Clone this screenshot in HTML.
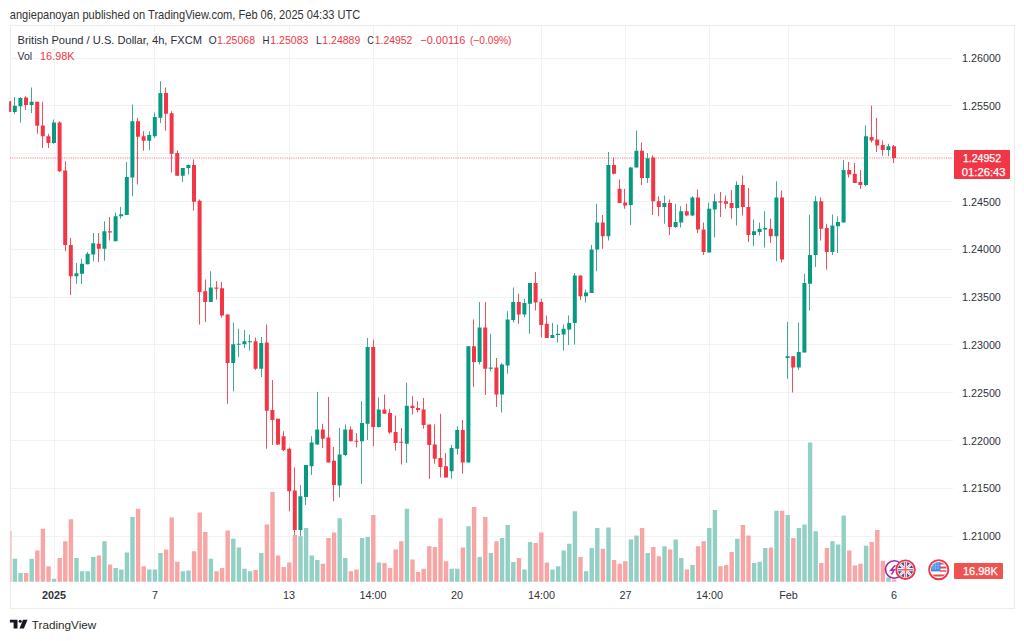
<!DOCTYPE html>
<html><head><meta charset="utf-8">
<style>
html,body{margin:0;padding:0;background:#fff;width:1024px;height:641px;overflow:hidden}
svg{position:absolute;left:0;top:0;font-family:"Liberation Sans",sans-serif}
.hd{font-size:12.4px;fill:#333}
.lg{font-size:11px;fill:#2a2e39}
.rd{fill:#f23645}
.pl{font-size:11px;fill:#2f323c}
.tl{font-size:10.8px;fill:#2f323c}
.b{font-weight:bold}
</style></head><body>
<svg width="1024" height="641" viewBox="0 0 1024 641">
<text x="9.8" y="18.8" class="hd" textLength="350.5" lengthAdjust="spacingAndGlyphs">angiepanoyan published on TradingView.com, Feb 06, 2025 04:33 UTC</text>
<rect x="10.5" y="25.5" width="1004" height="583" fill="none" stroke="#ededed" stroke-width="1.2"/>
<rect x="54" y="26" width="1" height="556" fill="#f2f2f2"/>
<rect x="154" y="26" width="1" height="556" fill="#f2f2f2"/>
<rect x="289" y="26" width="1" height="556" fill="#f2f2f2"/>
<rect x="373" y="26" width="1" height="556" fill="#f2f2f2"/>
<rect x="457" y="26" width="1" height="556" fill="#f2f2f2"/>
<rect x="541" y="26" width="1" height="556" fill="#f2f2f2"/>
<rect x="625" y="26" width="1" height="556" fill="#f2f2f2"/>
<rect x="709" y="26" width="1" height="556" fill="#f2f2f2"/>
<rect x="788" y="26" width="1" height="556" fill="#f2f2f2"/>
<rect x="894" y="26" width="1" height="556" fill="#f2f2f2"/>
<rect x="11" y="58" width="942" height="1" fill="#f2f2f2"/>
<rect x="11" y="105" width="942" height="1" fill="#f2f2f2"/>
<rect x="11" y="153" width="942" height="1" fill="#f2f2f2"/>
<rect x="11" y="201" width="942" height="1" fill="#f2f2f2"/>
<rect x="11" y="249" width="942" height="1" fill="#f2f2f2"/>
<rect x="11" y="297" width="942" height="1" fill="#f2f2f2"/>
<rect x="11" y="344" width="942" height="1" fill="#f2f2f2"/>
<rect x="11" y="392" width="942" height="1" fill="#f2f2f2"/>
<rect x="11" y="440" width="942" height="1" fill="#f2f2f2"/>
<rect x="11" y="488" width="942" height="1" fill="#f2f2f2"/>
<rect x="11" y="536" width="942" height="1" fill="#f2f2f2"/>
<rect x="10.50" y="531.25" width="1.00" height="50.50" fill="#f7a6a5"/>
<rect x="12.70" y="558.75" width="4.40" height="23.00" fill="#92d0c5"/>
<rect x="18.30" y="573.00" width="4.40" height="8.75" fill="#92d0c5"/>
<rect x="23.90" y="573.00" width="4.40" height="8.75" fill="#f7a6a5"/>
<rect x="29.50" y="558.75" width="4.40" height="23.00" fill="#92d0c5"/>
<rect x="35.10" y="550.50" width="4.40" height="31.25" fill="#f7a6a5"/>
<rect x="40.70" y="528.75" width="4.40" height="53.00" fill="#f7a6a5"/>
<rect x="46.30" y="566.25" width="4.40" height="15.50" fill="#f7a6a5"/>
<rect x="51.90" y="578.75" width="4.40" height="3.00" fill="#92d0c5"/>
<rect x="57.50" y="558.00" width="4.40" height="23.75" fill="#f7a6a5"/>
<rect x="63.10" y="541.25" width="4.40" height="40.50" fill="#f7a6a5"/>
<rect x="68.70" y="519.25" width="4.40" height="62.50" fill="#f7a6a5"/>
<rect x="74.30" y="558.00" width="4.40" height="23.75" fill="#92d0c5"/>
<rect x="79.90" y="571.25" width="4.40" height="10.50" fill="#92d0c5"/>
<rect x="85.50" y="571.25" width="4.40" height="10.50" fill="#92d0c5"/>
<rect x="91.10" y="557.00" width="4.40" height="24.75" fill="#92d0c5"/>
<rect x="96.70" y="555.50" width="4.40" height="26.25" fill="#f7a6a5"/>
<rect x="102.30" y="541.25" width="4.40" height="40.50" fill="#92d0c5"/>
<rect x="107.90" y="564.50" width="4.40" height="17.25" fill="#f7a6a5"/>
<rect x="113.50" y="568.00" width="4.40" height="13.75" fill="#92d0c5"/>
<rect x="119.10" y="569.50" width="4.40" height="12.25" fill="#92d0c5"/>
<rect x="124.70" y="552.50" width="4.40" height="29.25" fill="#92d0c5"/>
<rect x="130.30" y="517.00" width="4.40" height="64.75" fill="#92d0c5"/>
<rect x="135.90" y="508.75" width="4.40" height="73.00" fill="#f7a6a5"/>
<rect x="141.50" y="566.25" width="4.40" height="15.50" fill="#f7a6a5"/>
<rect x="147.10" y="569.50" width="4.40" height="12.25" fill="#92d0c5"/>
<rect x="152.70" y="569.50" width="4.40" height="12.25" fill="#92d0c5"/>
<rect x="158.30" y="553.00" width="4.40" height="28.75" fill="#92d0c5"/>
<rect x="163.90" y="549.50" width="4.40" height="32.25" fill="#f7a6a5"/>
<rect x="169.50" y="517.50" width="4.40" height="64.25" fill="#f7a6a5"/>
<rect x="175.10" y="561.75" width="4.40" height="20.00" fill="#f7a6a5"/>
<rect x="180.70" y="571.25" width="4.40" height="10.50" fill="#92d0c5"/>
<rect x="186.30" y="570.50" width="4.40" height="11.25" fill="#92d0c5"/>
<rect x="191.90" y="551.25" width="4.40" height="30.50" fill="#f7a6a5"/>
<rect x="197.50" y="512.50" width="4.40" height="69.25" fill="#f7a6a5"/>
<rect x="203.10" y="532.00" width="4.40" height="49.75" fill="#f7a6a5"/>
<rect x="208.70" y="558.75" width="4.40" height="23.00" fill="#92d0c5"/>
<rect x="214.30" y="571.25" width="4.40" height="10.50" fill="#f7a6a5"/>
<rect x="219.90" y="568.00" width="4.40" height="13.75" fill="#f7a6a5"/>
<rect x="225.50" y="530.50" width="4.40" height="51.25" fill="#f7a6a5"/>
<rect x="231.10" y="538.75" width="4.40" height="43.00" fill="#92d0c5"/>
<rect x="236.70" y="547.50" width="4.40" height="34.25" fill="#92d0c5"/>
<rect x="242.30" y="568.75" width="4.40" height="13.00" fill="#92d0c5"/>
<rect x="247.90" y="571.25" width="4.40" height="10.50" fill="#92d0c5"/>
<rect x="253.50" y="570.00" width="4.40" height="11.75" fill="#f7a6a5"/>
<rect x="259.10" y="553.00" width="4.40" height="28.75" fill="#92d0c5"/>
<rect x="264.70" y="524.50" width="4.40" height="57.25" fill="#f7a6a5"/>
<rect x="270.30" y="492.00" width="4.40" height="89.75" fill="#f7a6a5"/>
<rect x="275.90" y="555.50" width="4.40" height="26.25" fill="#f7a6a5"/>
<rect x="281.50" y="567.00" width="4.40" height="14.75" fill="#f7a6a5"/>
<rect x="287.10" y="562.50" width="4.40" height="19.25" fill="#f7a6a5"/>
<rect x="292.70" y="535.00" width="4.40" height="46.75" fill="#f7a6a5"/>
<rect x="298.30" y="536.25" width="4.40" height="45.50" fill="#92d0c5"/>
<rect x="303.90" y="528.00" width="4.40" height="53.75" fill="#92d0c5"/>
<rect x="309.50" y="555.50" width="4.40" height="26.25" fill="#92d0c5"/>
<rect x="315.10" y="560.00" width="4.40" height="21.75" fill="#92d0c5"/>
<rect x="320.70" y="563.75" width="4.40" height="18.00" fill="#f7a6a5"/>
<rect x="326.30" y="538.00" width="4.40" height="43.75" fill="#f7a6a5"/>
<rect x="331.90" y="532.50" width="4.40" height="49.25" fill="#f7a6a5"/>
<rect x="337.50" y="518.25" width="4.40" height="63.50" fill="#92d0c5"/>
<rect x="343.10" y="558.00" width="4.40" height="23.75" fill="#92d0c5"/>
<rect x="348.70" y="571.25" width="4.40" height="10.50" fill="#f7a6a5"/>
<rect x="354.30" y="569.50" width="4.40" height="12.25" fill="#f7a6a5"/>
<rect x="359.90" y="538.00" width="4.40" height="43.75" fill="#92d0c5"/>
<rect x="365.50" y="537.00" width="4.40" height="44.75" fill="#92d0c5"/>
<rect x="371.10" y="515.00" width="4.40" height="66.75" fill="#f7a6a5"/>
<rect x="376.70" y="562.50" width="4.40" height="19.25" fill="#92d0c5"/>
<rect x="382.30" y="563.00" width="4.40" height="18.75" fill="#f7a6a5"/>
<rect x="387.90" y="568.00" width="4.40" height="13.75" fill="#f7a6a5"/>
<rect x="393.50" y="549.50" width="4.40" height="32.25" fill="#f7a6a5"/>
<rect x="399.10" y="541.25" width="4.40" height="40.50" fill="#f7a6a5"/>
<rect x="404.70" y="508.75" width="4.40" height="73.00" fill="#92d0c5"/>
<rect x="410.30" y="559.50" width="4.40" height="22.25" fill="#f7a6a5"/>
<rect x="415.90" y="572.00" width="4.40" height="9.75" fill="#f7a6a5"/>
<rect x="421.50" y="568.75" width="4.40" height="13.00" fill="#f7a6a5"/>
<rect x="427.10" y="546.25" width="4.40" height="35.50" fill="#f7a6a5"/>
<rect x="432.70" y="547.00" width="4.40" height="34.75" fill="#f7a6a5"/>
<rect x="438.30" y="518.25" width="4.40" height="63.50" fill="#f7a6a5"/>
<rect x="443.90" y="561.25" width="4.40" height="20.50" fill="#f7a6a5"/>
<rect x="449.50" y="568.75" width="4.40" height="13.00" fill="#92d0c5"/>
<rect x="455.10" y="568.75" width="4.40" height="13.00" fill="#92d0c5"/>
<rect x="460.70" y="547.50" width="4.40" height="34.25" fill="#f7a6a5"/>
<rect x="466.30" y="526.25" width="4.40" height="55.50" fill="#92d0c5"/>
<rect x="471.90" y="507.00" width="4.40" height="74.75" fill="#f7a6a5"/>
<rect x="477.50" y="557.00" width="4.40" height="24.75" fill="#92d0c5"/>
<rect x="483.10" y="517.00" width="4.40" height="64.75" fill="#f7a6a5"/>
<rect x="488.70" y="553.00" width="4.40" height="28.75" fill="#92d0c5"/>
<rect x="494.30" y="541.25" width="4.40" height="40.50" fill="#f7a6a5"/>
<rect x="499.90" y="538.00" width="4.40" height="43.75" fill="#92d0c5"/>
<rect x="505.50" y="525.00" width="4.40" height="56.75" fill="#92d0c5"/>
<rect x="511.10" y="562.00" width="4.40" height="19.75" fill="#92d0c5"/>
<rect x="516.70" y="558.00" width="4.40" height="23.75" fill="#f7a6a5"/>
<rect x="522.30" y="569.50" width="4.40" height="12.25" fill="#92d0c5"/>
<rect x="527.90" y="542.00" width="4.40" height="39.75" fill="#92d0c5"/>
<rect x="533.50" y="543.00" width="4.40" height="38.75" fill="#f7a6a5"/>
<rect x="539.10" y="532.50" width="4.40" height="49.25" fill="#f7a6a5"/>
<rect x="544.70" y="562.50" width="4.40" height="19.25" fill="#f7a6a5"/>
<rect x="550.30" y="569.50" width="4.40" height="12.25" fill="#92d0c5"/>
<rect x="555.90" y="566.25" width="4.40" height="15.50" fill="#92d0c5"/>
<rect x="561.50" y="550.50" width="4.40" height="31.25" fill="#92d0c5"/>
<rect x="567.10" y="543.75" width="4.40" height="38.00" fill="#92d0c5"/>
<rect x="572.70" y="511.25" width="4.40" height="70.50" fill="#92d0c5"/>
<rect x="578.30" y="557.00" width="4.40" height="24.75" fill="#f7a6a5"/>
<rect x="583.90" y="571.25" width="4.40" height="10.50" fill="#92d0c5"/>
<rect x="589.50" y="548.00" width="4.40" height="33.75" fill="#92d0c5"/>
<rect x="595.10" y="528.00" width="4.40" height="53.75" fill="#92d0c5"/>
<rect x="600.70" y="548.75" width="4.40" height="33.00" fill="#f7a6a5"/>
<rect x="606.30" y="527.50" width="4.40" height="54.25" fill="#92d0c5"/>
<rect x="611.90" y="560.00" width="4.40" height="21.75" fill="#f7a6a5"/>
<rect x="617.50" y="563.75" width="4.40" height="18.00" fill="#f7a6a5"/>
<rect x="623.10" y="561.25" width="4.40" height="20.50" fill="#f7a6a5"/>
<rect x="628.70" y="539.50" width="4.40" height="42.25" fill="#92d0c5"/>
<rect x="634.30" y="535.50" width="4.40" height="46.25" fill="#92d0c5"/>
<rect x="639.90" y="528.00" width="4.40" height="53.75" fill="#f7a6a5"/>
<rect x="645.50" y="553.00" width="4.40" height="28.75" fill="#92d0c5"/>
<rect x="651.10" y="547.00" width="4.40" height="34.75" fill="#f7a6a5"/>
<rect x="656.70" y="556.25" width="4.40" height="25.50" fill="#f7a6a5"/>
<rect x="662.30" y="546.25" width="4.40" height="35.50" fill="#92d0c5"/>
<rect x="667.90" y="549.50" width="4.40" height="32.25" fill="#f7a6a5"/>
<rect x="673.50" y="539.50" width="4.40" height="42.25" fill="#92d0c5"/>
<rect x="679.10" y="558.00" width="4.40" height="23.75" fill="#92d0c5"/>
<rect x="684.70" y="569.50" width="4.40" height="12.25" fill="#f7a6a5"/>
<rect x="690.30" y="565.00" width="4.40" height="16.75" fill="#92d0c5"/>
<rect x="695.90" y="546.25" width="4.40" height="35.50" fill="#f7a6a5"/>
<rect x="701.50" y="541.25" width="4.40" height="40.50" fill="#f7a6a5"/>
<rect x="707.10" y="528.00" width="4.40" height="53.75" fill="#92d0c5"/>
<rect x="712.70" y="510.00" width="4.40" height="71.75" fill="#92d0c5"/>
<rect x="718.30" y="566.25" width="4.40" height="15.50" fill="#f7a6a5"/>
<rect x="723.90" y="565.00" width="4.40" height="16.75" fill="#f7a6a5"/>
<rect x="729.50" y="552.00" width="4.40" height="29.75" fill="#f7a6a5"/>
<rect x="735.10" y="538.75" width="4.40" height="43.00" fill="#92d0c5"/>
<rect x="740.70" y="525.00" width="4.40" height="56.75" fill="#f7a6a5"/>
<rect x="746.30" y="535.50" width="4.40" height="46.25" fill="#f7a6a5"/>
<rect x="751.90" y="563.00" width="4.40" height="18.75" fill="#92d0c5"/>
<rect x="757.50" y="561.75" width="4.40" height="20.00" fill="#92d0c5"/>
<rect x="763.10" y="548.00" width="4.40" height="33.75" fill="#92d0c5"/>
<rect x="768.70" y="547.50" width="4.40" height="34.25" fill="#f7a6a5"/>
<rect x="774.30" y="510.75" width="4.40" height="71.00" fill="#92d0c5"/>
<rect x="779.90" y="510.75" width="4.40" height="71.00" fill="#f7a6a5"/>
<rect x="785.50" y="515.00" width="4.40" height="66.75" fill="#92d0c5"/>
<rect x="791.10" y="538.00" width="4.40" height="43.75" fill="#f7a6a5"/>
<rect x="796.70" y="528.00" width="4.40" height="53.75" fill="#92d0c5"/>
<rect x="802.30" y="524.50" width="4.40" height="57.25" fill="#92d0c5"/>
<rect x="807.90" y="442.50" width="4.40" height="139.25" fill="#92d0c5"/>
<rect x="813.50" y="531.25" width="4.40" height="50.50" fill="#92d0c5"/>
<rect x="819.10" y="563.00" width="4.40" height="18.75" fill="#f7a6a5"/>
<rect x="824.70" y="548.00" width="4.40" height="33.75" fill="#f7a6a5"/>
<rect x="830.30" y="541.25" width="4.40" height="40.50" fill="#92d0c5"/>
<rect x="835.90" y="544.50" width="4.40" height="37.25" fill="#92d0c5"/>
<rect x="841.50" y="515.50" width="4.40" height="66.25" fill="#92d0c5"/>
<rect x="847.10" y="550.50" width="4.40" height="31.25" fill="#f7a6a5"/>
<rect x="852.70" y="565.50" width="4.40" height="16.25" fill="#f7a6a5"/>
<rect x="858.30" y="563.75" width="4.40" height="18.00" fill="#f7a6a5"/>
<rect x="863.90" y="545.75" width="4.40" height="36.00" fill="#92d0c5"/>
<rect x="869.50" y="542.00" width="4.40" height="39.75" fill="#f7a6a5"/>
<rect x="875.10" y="530.00" width="4.40" height="51.75" fill="#f7a6a5"/>
<rect x="880.70" y="560.75" width="4.40" height="21.00" fill="#f7a6a5"/>
<rect x="886.30" y="577.50" width="4.40" height="4.25" fill="#92d0c5"/>
<rect x="891.90" y="579.50" width="4.40" height="2.25" fill="#f7a6a5"/>
<line x1="10" y1="158" x2="953" y2="158" stroke="#f23645" stroke-width="1.3" stroke-dasharray="1.1 1.15" opacity="0.45"/>
<rect x="9" y="101.25" width="1" height="10.75" fill="#f24f5c"/>
<rect x="10.00" y="101.25" width="1.20" height="10.75" fill="#f23645"/>
<rect x="14" y="97.00" width="1" height="16.75" fill="#3fab97"/>
<rect x="12.80" y="105.75" width="4.00" height="6.25" fill="#089981"/>
<rect x="20" y="97.00" width="1" height="25.50" fill="#3fab97"/>
<rect x="18.40" y="98.00" width="4.00" height="8.25" fill="#089981"/>
<rect x="25" y="96.25" width="1" height="13.75" fill="#f24f5c"/>
<rect x="24.00" y="97.50" width="4.00" height="7.50" fill="#f23645"/>
<rect x="31" y="87.50" width="1" height="25.50" fill="#3fab97"/>
<rect x="29.60" y="101.75" width="4.00" height="3.25" fill="#089981"/>
<rect x="37" y="101.75" width="1" height="32.00" fill="#f24f5c"/>
<rect x="35.20" y="101.75" width="4.00" height="24.00" fill="#f23645"/>
<rect x="42" y="101.75" width="1" height="46.25" fill="#f24f5c"/>
<rect x="40.80" y="125.50" width="4.00" height="10.75" fill="#f23645"/>
<rect x="48" y="133.75" width="1" height="14.25" fill="#f24f5c"/>
<rect x="46.40" y="136.25" width="4.00" height="6.75" fill="#f23645"/>
<rect x="53" y="119.50" width="1" height="24.25" fill="#3fab97"/>
<rect x="52.00" y="122.50" width="4.00" height="20.50" fill="#089981"/>
<rect x="59" y="121.25" width="1" height="50.75" fill="#f24f5c"/>
<rect x="57.60" y="122.50" width="4.00" height="48.75" fill="#f23645"/>
<rect x="65" y="161.25" width="1" height="90.00" fill="#f24f5c"/>
<rect x="63.20" y="170.50" width="4.00" height="74.50" fill="#f23645"/>
<rect x="70" y="238.00" width="1" height="57.00" fill="#f24f5c"/>
<rect x="68.80" y="245.00" width="4.00" height="31.25" fill="#f23645"/>
<rect x="76" y="263.00" width="1" height="20.75" fill="#3fab97"/>
<rect x="74.40" y="273.25" width="4.00" height="3.00" fill="#089981"/>
<rect x="81" y="258.75" width="1" height="25.00" fill="#3fab97"/>
<rect x="80.00" y="263.75" width="4.00" height="10.00" fill="#089981"/>
<rect x="87" y="252.00" width="1" height="12.25" fill="#3fab97"/>
<rect x="85.60" y="253.75" width="4.00" height="10.50" fill="#089981"/>
<rect x="93" y="233.00" width="1" height="28.25" fill="#3fab97"/>
<rect x="91.20" y="243.25" width="4.00" height="11.25" fill="#089981"/>
<rect x="98" y="233.00" width="1" height="29.00" fill="#f24f5c"/>
<rect x="96.80" y="243.75" width="4.00" height="5.00" fill="#f23645"/>
<rect x="104" y="221.25" width="1" height="39.50" fill="#3fab97"/>
<rect x="102.40" y="231.25" width="4.00" height="17.50" fill="#089981"/>
<rect x="109" y="217.00" width="1" height="23.50" fill="#f24f5c"/>
<rect x="108.00" y="231.25" width="4.00" height="1.25" fill="#f23645"/>
<rect x="115" y="212.50" width="1" height="28.75" fill="#3fab97"/>
<rect x="113.60" y="216.25" width="4.00" height="25.00" fill="#089981"/>
<rect x="120" y="207.00" width="1" height="11.75" fill="#3fab97"/>
<rect x="119.20" y="214.25" width="4.00" height="2.00" fill="#089981"/>
<rect x="126" y="162.00" width="1" height="53.00" fill="#3fab97"/>
<rect x="124.80" y="177.00" width="4.00" height="38.00" fill="#089981"/>
<rect x="132" y="104.50" width="1" height="91.75" fill="#3fab97"/>
<rect x="130.40" y="121.25" width="4.00" height="56.25" fill="#089981"/>
<rect x="137" y="118.00" width="1" height="66.50" fill="#f24f5c"/>
<rect x="136.00" y="121.25" width="4.00" height="15.50" fill="#f23645"/>
<rect x="143" y="131.25" width="1" height="19.50" fill="#f24f5c"/>
<rect x="141.60" y="136.25" width="4.00" height="4.50" fill="#f23645"/>
<rect x="149" y="131.25" width="1" height="18.75" fill="#3fab97"/>
<rect x="147.20" y="135.00" width="4.00" height="5.75" fill="#089981"/>
<rect x="154" y="112.50" width="1" height="25.50" fill="#3fab97"/>
<rect x="152.80" y="117.00" width="4.00" height="19.25" fill="#089981"/>
<rect x="160" y="81.25" width="1" height="41.75" fill="#3fab97"/>
<rect x="158.40" y="93.10" width="4.00" height="24.70" fill="#089981"/>
<rect x="165" y="87.50" width="1" height="43.25" fill="#f24f5c"/>
<rect x="164.00" y="93.00" width="4.00" height="20.75" fill="#f23645"/>
<rect x="171" y="111.25" width="1" height="61.25" fill="#f24f5c"/>
<rect x="169.60" y="113.25" width="4.00" height="40.50" fill="#f23645"/>
<rect x="177" y="150.50" width="1" height="25.25" fill="#f24f5c"/>
<rect x="175.20" y="153.00" width="4.00" height="22.75" fill="#f23645"/>
<rect x="182" y="168.00" width="1" height="14.00" fill="#3fab97"/>
<rect x="180.80" y="168.00" width="4.00" height="7.75" fill="#089981"/>
<rect x="188" y="164.50" width="1" height="10.00" fill="#3fab97"/>
<rect x="186.40" y="165.00" width="4.00" height="3.00" fill="#089981"/>
<rect x="193" y="159.50" width="1" height="51.00" fill="#f24f5c"/>
<rect x="192.00" y="165.00" width="4.00" height="36.75" fill="#f23645"/>
<rect x="199" y="199.50" width="1" height="125.00" fill="#f24f5c"/>
<rect x="197.60" y="200.75" width="4.00" height="91.25" fill="#f23645"/>
<rect x="205" y="279.50" width="1" height="42.50" fill="#f24f5c"/>
<rect x="203.20" y="291.25" width="4.00" height="10.75" fill="#f23645"/>
<rect x="210" y="271.25" width="1" height="30.75" fill="#3fab97"/>
<rect x="208.80" y="287.50" width="4.00" height="14.50" fill="#089981"/>
<rect x="216" y="281.25" width="1" height="18.25" fill="#f24f5c"/>
<rect x="214.40" y="287.50" width="4.00" height="1.25" fill="#f23645"/>
<rect x="221" y="282.00" width="1" height="35.50" fill="#f24f5c"/>
<rect x="220.00" y="288.25" width="4.00" height="27.25" fill="#f23645"/>
<rect x="227" y="314.50" width="1" height="89.25" fill="#f24f5c"/>
<rect x="225.60" y="314.50" width="4.00" height="48.50" fill="#f23645"/>
<rect x="233" y="322.50" width="1" height="68.75" fill="#3fab97"/>
<rect x="231.20" y="344.25" width="4.00" height="18.75" fill="#089981"/>
<rect x="238" y="328.75" width="1" height="28.25" fill="#3fab97"/>
<rect x="236.80" y="343.75" width="4.00" height="1.00" fill="#089981"/>
<rect x="244" y="330.00" width="1" height="18.00" fill="#3fab97"/>
<rect x="242.40" y="341.25" width="4.00" height="3.00" fill="#089981"/>
<rect x="249" y="334.50" width="1" height="16.00" fill="#3fab97"/>
<rect x="248.00" y="341.25" width="4.00" height="1.00" fill="#089981"/>
<rect x="255" y="337.50" width="1" height="32.50" fill="#f24f5c"/>
<rect x="253.60" y="341.25" width="4.00" height="27.50" fill="#f23645"/>
<rect x="261" y="337.00" width="1" height="40.00" fill="#3fab97"/>
<rect x="259.20" y="343.00" width="4.00" height="25.75" fill="#089981"/>
<rect x="266" y="324.50" width="1" height="124.25" fill="#f24f5c"/>
<rect x="264.80" y="342.50" width="4.00" height="68.25" fill="#f23645"/>
<rect x="272" y="380.00" width="1" height="65.00" fill="#f24f5c"/>
<rect x="270.40" y="410.00" width="4.00" height="10.00" fill="#f23645"/>
<rect x="277" y="418.75" width="1" height="26.25" fill="#f24f5c"/>
<rect x="276.00" y="418.75" width="4.00" height="25.75" fill="#f23645"/>
<rect x="283" y="431.25" width="1" height="20.00" fill="#f24f5c"/>
<rect x="281.60" y="436.25" width="4.00" height="13.75" fill="#f23645"/>
<rect x="289" y="447.50" width="1" height="63.75" fill="#f24f5c"/>
<rect x="287.20" y="448.75" width="4.00" height="42.50" fill="#f23645"/>
<rect x="294" y="467.50" width="1" height="67.50" fill="#f24f5c"/>
<rect x="292.80" y="490.50" width="4.00" height="39.50" fill="#f23645"/>
<rect x="300" y="485.00" width="1" height="51.25" fill="#3fab97"/>
<rect x="298.40" y="496.25" width="4.00" height="33.75" fill="#089981"/>
<rect x="305" y="465.00" width="1" height="40.00" fill="#3fab97"/>
<rect x="304.00" y="465.00" width="4.00" height="32.00" fill="#089981"/>
<rect x="311" y="436.25" width="1" height="38.75" fill="#3fab97"/>
<rect x="309.60" y="442.50" width="4.00" height="23.75" fill="#089981"/>
<rect x="317" y="392.00" width="1" height="52.50" fill="#3fab97"/>
<rect x="315.20" y="429.50" width="4.00" height="15.00" fill="#089981"/>
<rect x="322" y="423.75" width="1" height="24.25" fill="#f24f5c"/>
<rect x="320.80" y="429.50" width="4.00" height="9.25" fill="#f23645"/>
<rect x="328" y="397.00" width="1" height="65.50" fill="#f24f5c"/>
<rect x="326.40" y="437.50" width="4.00" height="25.00" fill="#f23645"/>
<rect x="333" y="447.00" width="1" height="54.25" fill="#f24f5c"/>
<rect x="332.00" y="460.75" width="4.00" height="24.25" fill="#f23645"/>
<rect x="339" y="428.00" width="1" height="69.50" fill="#3fab97"/>
<rect x="337.60" y="454.50" width="4.00" height="31.00" fill="#089981"/>
<rect x="345" y="424.50" width="1" height="31.75" fill="#3fab97"/>
<rect x="343.20" y="429.50" width="4.00" height="25.50" fill="#089981"/>
<rect x="350" y="426.25" width="1" height="15.00" fill="#f24f5c"/>
<rect x="348.80" y="429.50" width="4.00" height="11.75" fill="#f23645"/>
<rect x="356" y="433.00" width="1" height="14.50" fill="#f24f5c"/>
<rect x="354.40" y="440.75" width="4.00" height="1.00" fill="#f23645"/>
<rect x="361" y="401.25" width="1" height="82.50" fill="#3fab97"/>
<rect x="360.00" y="423.00" width="4.00" height="18.25" fill="#089981"/>
<rect x="367" y="338.00" width="1" height="102.00" fill="#3fab97"/>
<rect x="365.60" y="347.00" width="4.00" height="76.75" fill="#089981"/>
<rect x="373" y="339.50" width="1" height="106.75" fill="#f24f5c"/>
<rect x="371.20" y="347.00" width="4.00" height="80.00" fill="#f23645"/>
<rect x="378" y="397.50" width="1" height="30.00" fill="#3fab97"/>
<rect x="376.80" y="409.50" width="4.00" height="17.50" fill="#089981"/>
<rect x="384" y="394.50" width="1" height="19.25" fill="#f24f5c"/>
<rect x="382.40" y="409.50" width="4.00" height="4.25" fill="#f23645"/>
<rect x="389" y="408.75" width="1" height="25.00" fill="#f24f5c"/>
<rect x="388.00" y="413.00" width="4.00" height="19.50" fill="#f23645"/>
<rect x="395" y="415.50" width="1" height="35.00" fill="#f24f5c"/>
<rect x="393.60" y="432.00" width="4.00" height="11.00" fill="#f23645"/>
<rect x="401" y="428.00" width="1" height="36.50" fill="#f24f5c"/>
<rect x="399.20" y="441.75" width="4.00" height="1.00" fill="#f23645"/>
<rect x="406" y="382.50" width="1" height="80.50" fill="#3fab97"/>
<rect x="404.80" y="405.75" width="4.00" height="38.00" fill="#089981"/>
<rect x="412" y="396.25" width="1" height="18.25" fill="#f24f5c"/>
<rect x="410.40" y="405.75" width="4.00" height="2.25" fill="#f23645"/>
<rect x="417" y="401.25" width="1" height="11.25" fill="#f24f5c"/>
<rect x="416.00" y="408.00" width="4.00" height="2.00" fill="#f23645"/>
<rect x="423" y="398.00" width="1" height="30.75" fill="#f24f5c"/>
<rect x="421.60" y="409.50" width="4.00" height="15.50" fill="#f23645"/>
<rect x="429" y="424.50" width="1" height="54.25" fill="#f24f5c"/>
<rect x="427.20" y="424.50" width="4.00" height="20.50" fill="#f23645"/>
<rect x="434" y="424.50" width="1" height="39.25" fill="#f24f5c"/>
<rect x="432.80" y="444.50" width="4.00" height="14.25" fill="#f23645"/>
<rect x="440" y="413.75" width="1" height="63.75" fill="#f24f5c"/>
<rect x="438.40" y="458.00" width="4.00" height="9.00" fill="#f23645"/>
<rect x="445" y="453.00" width="1" height="24.50" fill="#f24f5c"/>
<rect x="444.00" y="466.25" width="4.00" height="11.25" fill="#f23645"/>
<rect x="451" y="445.00" width="1" height="33.75" fill="#3fab97"/>
<rect x="449.60" y="448.00" width="4.00" height="23.25" fill="#089981"/>
<rect x="457" y="426.25" width="1" height="28.25" fill="#3fab97"/>
<rect x="455.20" y="430.00" width="4.00" height="18.75" fill="#089981"/>
<rect x="462" y="420.00" width="1" height="53.75" fill="#f24f5c"/>
<rect x="460.80" y="430.00" width="4.00" height="32.50" fill="#f23645"/>
<rect x="468" y="346.00" width="1" height="116.50" fill="#3fab97"/>
<rect x="466.40" y="346.25" width="4.00" height="116.25" fill="#089981"/>
<rect x="473" y="319.50" width="1" height="67.50" fill="#f24f5c"/>
<rect x="472.00" y="346.25" width="4.00" height="15.75" fill="#f23645"/>
<rect x="479" y="302.00" width="1" height="62.50" fill="#3fab97"/>
<rect x="477.60" y="327.50" width="4.00" height="34.50" fill="#089981"/>
<rect x="485" y="302.00" width="1" height="93.00" fill="#f24f5c"/>
<rect x="483.20" y="327.50" width="4.00" height="41.25" fill="#f23645"/>
<rect x="490" y="333.75" width="1" height="37.50" fill="#3fab97"/>
<rect x="488.80" y="367.50" width="4.00" height="1.25" fill="#089981"/>
<rect x="496" y="358.00" width="1" height="49.00" fill="#f24f5c"/>
<rect x="494.40" y="367.50" width="4.00" height="27.00" fill="#f23645"/>
<rect x="501" y="363.00" width="1" height="49.50" fill="#3fab97"/>
<rect x="500.00" y="364.50" width="4.00" height="30.00" fill="#089981"/>
<rect x="507" y="311.25" width="1" height="62.50" fill="#3fab97"/>
<rect x="505.60" y="319.50" width="4.00" height="46.00" fill="#089981"/>
<rect x="513" y="287.50" width="1" height="35.00" fill="#3fab97"/>
<rect x="511.20" y="302.00" width="4.00" height="18.00" fill="#089981"/>
<rect x="518" y="293.75" width="1" height="30.00" fill="#f24f5c"/>
<rect x="516.80" y="302.00" width="4.00" height="12.50" fill="#f23645"/>
<rect x="524" y="298.75" width="1" height="18.25" fill="#3fab97"/>
<rect x="522.40" y="303.00" width="4.00" height="11.50" fill="#089981"/>
<rect x="529" y="283.00" width="1" height="50.75" fill="#3fab97"/>
<rect x="528.00" y="283.00" width="4.00" height="20.75" fill="#089981"/>
<rect x="535" y="272.00" width="1" height="38.50" fill="#f24f5c"/>
<rect x="533.60" y="283.00" width="4.00" height="19.50" fill="#f23645"/>
<rect x="541" y="298.75" width="1" height="38.75" fill="#f24f5c"/>
<rect x="539.20" y="302.00" width="4.00" height="23.00" fill="#f23645"/>
<rect x="546" y="315.50" width="1" height="22.50" fill="#f24f5c"/>
<rect x="544.80" y="323.75" width="4.00" height="14.25" fill="#f23645"/>
<rect x="552" y="323.00" width="1" height="15.00" fill="#3fab97"/>
<rect x="550.40" y="335.00" width="4.00" height="3.00" fill="#089981"/>
<rect x="557" y="324.50" width="1" height="18.00" fill="#3fab97"/>
<rect x="556.00" y="333.75" width="4.00" height="1.25" fill="#089981"/>
<rect x="563" y="324.50" width="1" height="26.00" fill="#3fab97"/>
<rect x="561.60" y="328.75" width="4.00" height="5.75" fill="#089981"/>
<rect x="568" y="315.50" width="1" height="29.50" fill="#3fab97"/>
<rect x="567.20" y="323.00" width="4.00" height="6.50" fill="#089981"/>
<rect x="574" y="273.00" width="1" height="71.50" fill="#3fab97"/>
<rect x="572.80" y="275.50" width="4.00" height="47.50" fill="#089981"/>
<rect x="580" y="275.50" width="1" height="24.50" fill="#f24f5c"/>
<rect x="578.40" y="275.50" width="4.00" height="20.75" fill="#f23645"/>
<rect x="585" y="289.50" width="1" height="13.00" fill="#3fab97"/>
<rect x="584.00" y="292.50" width="4.00" height="3.75" fill="#089981"/>
<rect x="591" y="245.00" width="1" height="48.00" fill="#3fab97"/>
<rect x="589.60" y="249.50" width="4.00" height="43.50" fill="#089981"/>
<rect x="596" y="203.75" width="1" height="67.50" fill="#3fab97"/>
<rect x="595.20" y="222.50" width="4.00" height="27.00" fill="#089981"/>
<rect x="602" y="215.00" width="1" height="33.75" fill="#f24f5c"/>
<rect x="600.80" y="222.50" width="4.00" height="13.75" fill="#f23645"/>
<rect x="608" y="152.00" width="1" height="88.50" fill="#3fab97"/>
<rect x="606.40" y="165.00" width="4.00" height="71.25" fill="#089981"/>
<rect x="613" y="157.50" width="1" height="17.00" fill="#f24f5c"/>
<rect x="612.00" y="165.00" width="4.00" height="8.75" fill="#f23645"/>
<rect x="619" y="179.50" width="1" height="23.50" fill="#f24f5c"/>
<rect x="617.60" y="188.75" width="4.00" height="14.25" fill="#f23645"/>
<rect x="624" y="188.75" width="1" height="20.00" fill="#f24f5c"/>
<rect x="623.20" y="202.50" width="4.00" height="3.00" fill="#f23645"/>
<rect x="630" y="167.00" width="1" height="58.00" fill="#3fab97"/>
<rect x="628.80" y="167.50" width="4.00" height="37.50" fill="#089981"/>
<rect x="636" y="130.50" width="1" height="37.00" fill="#3fab97"/>
<rect x="634.40" y="150.75" width="4.00" height="16.75" fill="#089981"/>
<rect x="641" y="142.50" width="1" height="42.50" fill="#f24f5c"/>
<rect x="640.00" y="150.75" width="4.00" height="27.25" fill="#f23645"/>
<rect x="647" y="153.00" width="1" height="30.00" fill="#3fab97"/>
<rect x="645.60" y="158.25" width="4.00" height="19.75" fill="#089981"/>
<rect x="652" y="155.50" width="1" height="59.50" fill="#f24f5c"/>
<rect x="651.20" y="157.50" width="4.00" height="43.75" fill="#f23645"/>
<rect x="658" y="196.25" width="1" height="20.00" fill="#f24f5c"/>
<rect x="656.80" y="201.25" width="4.00" height="5.75" fill="#f23645"/>
<rect x="664" y="195.50" width="1" height="28.25" fill="#3fab97"/>
<rect x="662.40" y="203.00" width="4.00" height="4.00" fill="#089981"/>
<rect x="669" y="199.50" width="1" height="35.50" fill="#f24f5c"/>
<rect x="668.00" y="203.00" width="4.00" height="24.00" fill="#f23645"/>
<rect x="675" y="203.75" width="1" height="24.25" fill="#3fab97"/>
<rect x="673.60" y="222.00" width="4.00" height="5.00" fill="#089981"/>
<rect x="680" y="206.25" width="1" height="21.25" fill="#3fab97"/>
<rect x="679.20" y="211.25" width="4.00" height="11.25" fill="#089981"/>
<rect x="686" y="203.75" width="1" height="12.50" fill="#f24f5c"/>
<rect x="684.80" y="211.25" width="4.00" height="4.25" fill="#f23645"/>
<rect x="692" y="196.25" width="1" height="20.00" fill="#3fab97"/>
<rect x="690.40" y="197.50" width="4.00" height="18.00" fill="#089981"/>
<rect x="697" y="189.50" width="1" height="43.50" fill="#f24f5c"/>
<rect x="696.00" y="197.50" width="4.00" height="32.00" fill="#f23645"/>
<rect x="703" y="222.50" width="1" height="32.50" fill="#f24f5c"/>
<rect x="701.60" y="229.50" width="4.00" height="22.50" fill="#f23645"/>
<rect x="708" y="202.50" width="1" height="50.00" fill="#3fab97"/>
<rect x="707.20" y="208.75" width="4.00" height="43.75" fill="#089981"/>
<rect x="714" y="193.75" width="1" height="43.75" fill="#3fab97"/>
<rect x="712.80" y="201.25" width="4.00" height="8.25" fill="#089981"/>
<rect x="720" y="192.00" width="1" height="25.00" fill="#f24f5c"/>
<rect x="718.40" y="201.25" width="4.00" height="1.25" fill="#f23645"/>
<rect x="725" y="195.50" width="1" height="13.25" fill="#f24f5c"/>
<rect x="724.00" y="201.25" width="4.00" height="2.50" fill="#f23645"/>
<rect x="731" y="190.00" width="1" height="28.75" fill="#f24f5c"/>
<rect x="729.60" y="203.00" width="4.00" height="5.00" fill="#f23645"/>
<rect x="736" y="181.25" width="1" height="44.25" fill="#3fab97"/>
<rect x="735.20" y="185.00" width="4.00" height="23.00" fill="#089981"/>
<rect x="742" y="175.50" width="1" height="40.00" fill="#f24f5c"/>
<rect x="740.80" y="185.00" width="4.00" height="22.00" fill="#f23645"/>
<rect x="748" y="188.00" width="1" height="54.00" fill="#f24f5c"/>
<rect x="746.40" y="207.00" width="4.00" height="28.00" fill="#f23645"/>
<rect x="753" y="219.50" width="1" height="26.75" fill="#3fab97"/>
<rect x="752.00" y="231.25" width="4.00" height="3.75" fill="#089981"/>
<rect x="759" y="222.50" width="1" height="13.00" fill="#3fab97"/>
<rect x="757.60" y="228.75" width="4.00" height="3.25" fill="#089981"/>
<rect x="764" y="211.25" width="1" height="36.25" fill="#3fab97"/>
<rect x="763.20" y="228.00" width="4.00" height="1.50" fill="#089981"/>
<rect x="770" y="218.75" width="1" height="24.25" fill="#f24f5c"/>
<rect x="768.80" y="228.75" width="4.00" height="7.50" fill="#f23645"/>
<rect x="776" y="181.25" width="1" height="80.00" fill="#3fab97"/>
<rect x="774.40" y="197.50" width="4.00" height="38.75" fill="#089981"/>
<rect x="781" y="190.50" width="1" height="72.00" fill="#f24f5c"/>
<rect x="780.00" y="197.50" width="4.00" height="62.00" fill="#f23645"/>
<rect x="787" y="322.00" width="1" height="56.75" fill="#3fab97"/>
<rect x="785.60" y="356.25" width="4.00" height="1.75" fill="#089981"/>
<rect x="792" y="356.25" width="1" height="36.25" fill="#f24f5c"/>
<rect x="791.20" y="356.25" width="4.00" height="11.25" fill="#f23645"/>
<rect x="798" y="322.50" width="1" height="47.50" fill="#3fab97"/>
<rect x="796.80" y="352.00" width="4.00" height="15.50" fill="#089981"/>
<rect x="804" y="273.75" width="1" height="78.75" fill="#3fab97"/>
<rect x="802.40" y="283.00" width="4.00" height="69.50" fill="#089981"/>
<rect x="809" y="214.50" width="1" height="96.00" fill="#3fab97"/>
<rect x="808.00" y="255.00" width="4.00" height="28.75" fill="#089981"/>
<rect x="815" y="196.25" width="1" height="70.75" fill="#3fab97"/>
<rect x="813.60" y="201.25" width="4.00" height="53.75" fill="#089981"/>
<rect x="820" y="197.50" width="1" height="43.00" fill="#f24f5c"/>
<rect x="819.20" y="201.25" width="4.00" height="27.50" fill="#f23645"/>
<rect x="826" y="223.75" width="1" height="45.75" fill="#f24f5c"/>
<rect x="824.80" y="228.00" width="4.00" height="24.00" fill="#f23645"/>
<rect x="832" y="214.50" width="1" height="40.50" fill="#3fab97"/>
<rect x="830.40" y="225.50" width="4.00" height="26.50" fill="#089981"/>
<rect x="837" y="216.25" width="1" height="36.75" fill="#3fab97"/>
<rect x="836.00" y="222.00" width="4.00" height="4.25" fill="#089981"/>
<rect x="843" y="160.00" width="1" height="62.50" fill="#3fab97"/>
<rect x="841.60" y="170.00" width="4.00" height="52.50" fill="#089981"/>
<rect x="848" y="162.00" width="1" height="15.50" fill="#f24f5c"/>
<rect x="847.20" y="170.00" width="4.00" height="4.50" fill="#f23645"/>
<rect x="854" y="163.00" width="1" height="20.00" fill="#f24f5c"/>
<rect x="852.80" y="173.75" width="4.00" height="9.25" fill="#f23645"/>
<rect x="860" y="170.00" width="1" height="18.75" fill="#f24f5c"/>
<rect x="858.40" y="182.00" width="4.00" height="3.00" fill="#f23645"/>
<rect x="865" y="125.50" width="1" height="60.75" fill="#3fab97"/>
<rect x="864.00" y="136.25" width="4.00" height="48.75" fill="#089981"/>
<rect x="871" y="105.60" width="1" height="36.90" fill="#f24f5c"/>
<rect x="869.60" y="137.00" width="4.00" height="3.50" fill="#f23645"/>
<rect x="876" y="118.00" width="1" height="34.00" fill="#f24f5c"/>
<rect x="875.20" y="139.50" width="4.00" height="6.00" fill="#f23645"/>
<rect x="882" y="140.50" width="1" height="15.00" fill="#f24f5c"/>
<rect x="880.80" y="145.00" width="4.00" height="5.00" fill="#f23645"/>
<rect x="888" y="143.75" width="1" height="12.50" fill="#3fab97"/>
<rect x="886.40" y="146.25" width="4.00" height="3.75" fill="#089981"/>
<rect x="893" y="145.00" width="1" height="18.00" fill="#f24f5c"/>
<rect x="892.00" y="146.25" width="4.00" height="11.75" fill="#f23645"/>
<text x="17.5" y="43.8" class="lg" textLength="184.5" lengthAdjust="spacingAndGlyphs">British Pound / U.S. Dollar, 4h, FXCM</text>
<text x="208.7" y="43.8" class="lg" textLength="7.9" lengthAdjust="spacingAndGlyphs">O</text>
<text x="217" y="43.8" class="lg rd" textLength="38" lengthAdjust="spacingAndGlyphs">1.25068</text>
<text x="262.6" y="43.8" class="lg" textLength="7" lengthAdjust="spacingAndGlyphs">H</text>
<text x="270.3" y="43.8" class="lg rd" textLength="38.1" lengthAdjust="spacingAndGlyphs">1.25083</text>
<text x="316" y="43.8" class="lg" textLength="5.7" lengthAdjust="spacingAndGlyphs">L</text>
<text x="322.3" y="43.8" class="lg rd" textLength="38" lengthAdjust="spacingAndGlyphs">1.24889</text>
<text x="367.3" y="43.8" class="lg" textLength="6.6" lengthAdjust="spacingAndGlyphs">C</text>
<text x="374.7" y="43.8" class="lg rd" textLength="37.7" lengthAdjust="spacingAndGlyphs">1.24952</text>
<text x="420.3" y="43.8" class="lg rd" textLength="45.1" lengthAdjust="spacingAndGlyphs">−0.00116</text>
<text x="469.9" y="43.8" class="lg rd" textLength="41.6" lengthAdjust="spacingAndGlyphs">(−0.09%)</text>
<text x="17.5" y="59.5" class="lg" textLength="14.5" lengthAdjust="spacingAndGlyphs">Vol</text>
<text x="40" y="59.5" class="lg rd" textLength="34.5" lengthAdjust="spacingAndGlyphs">16.98K</text>
<text x="962.1" y="62.2" class="pl" textLength="38.7" lengthAdjust="spacingAndGlyphs">1.26000</text>
<text x="962.1" y="110.0" class="pl" textLength="38.7" lengthAdjust="spacingAndGlyphs">1.25500</text>
<text x="962.1" y="157.8" class="pl" textLength="38.7" lengthAdjust="spacingAndGlyphs">1.25000</text>
<text x="962.1" y="205.6" class="pl" textLength="38.7" lengthAdjust="spacingAndGlyphs">1.24500</text>
<text x="962.1" y="253.4" class="pl" textLength="38.7" lengthAdjust="spacingAndGlyphs">1.24000</text>
<text x="962.1" y="301.2" class="pl" textLength="38.7" lengthAdjust="spacingAndGlyphs">1.23500</text>
<text x="962.1" y="349.0" class="pl" textLength="38.7" lengthAdjust="spacingAndGlyphs">1.23000</text>
<text x="962.1" y="396.8" class="pl" textLength="38.7" lengthAdjust="spacingAndGlyphs">1.22500</text>
<text x="962.1" y="444.6" class="pl" textLength="38.7" lengthAdjust="spacingAndGlyphs">1.22000</text>
<text x="962.1" y="492.4" class="pl" textLength="38.7" lengthAdjust="spacingAndGlyphs">1.21500</text>
<text x="962.1" y="540.2" class="pl" textLength="38.7" lengthAdjust="spacingAndGlyphs">1.21000</text>

<rect x="954" y="150" width="56" height="29" rx="1" fill="#f23645"/>
<text x="962.9" y="162" class="pl" style="fill:#fff;stroke:#fff;stroke-width:0.25" textLength="38.2" lengthAdjust="spacingAndGlyphs">1.24952</text>
<text x="961.8" y="175.5" class="pl" style="fill:#fff;stroke:#fff;stroke-width:0.25" textLength="43.8" lengthAdjust="spacingAndGlyphs">01:26:43</text>
<rect x="954" y="563" width="49" height="16" rx="1" fill="#ef5350"/>
<text x="962.9" y="575.2" class="pl" style="fill:#fff;font-size:10.8px;stroke:#fff;stroke-width:0.25" textLength="35" lengthAdjust="spacingAndGlyphs">16.98K</text>
<text x="54" y="599" class="tl b" text-anchor="middle">2025</text>
<text x="155" y="599" class="tl" text-anchor="middle">7</text>
<text x="289" y="599" class="tl" text-anchor="middle">13</text>
<text x="373" y="599" class="tl" text-anchor="middle">14:00</text>
<text x="457" y="599" class="tl" text-anchor="middle">20</text>
<text x="541.5" y="599" class="tl" text-anchor="middle">14:00</text>
<text x="625.5" y="599" class="tl" text-anchor="middle">27</text>
<text x="709.5" y="599" class="tl" text-anchor="middle">14:00</text>
<text x="788.5" y="599" class="tl" text-anchor="middle">Feb</text>
<text x="894" y="599" class="tl" text-anchor="middle">6</text>

<circle cx="894.2" cy="569.5" r="8.7" fill="#fff" stroke="#9c27b0" stroke-width="1.6"/>
<polyline points="895.3,565.2 890.8,570.2 894.2,569.8 891.6,574.4" fill="none" stroke="#9c27b0" stroke-width="1.5" stroke-linejoin="miter"/>
<circle cx="905.5" cy="569.7" r="9.3" fill="#fff" stroke="#f23645" stroke-width="1.9"/>
<clipPath id="ukc"><circle cx="905.5" cy="569.7" r="7.6"/></clipPath>
<g clip-path="url(#ukc)">
<rect x="897" y="561" width="17" height="17" fill="#2353a8"/>
<path d="M897 561.2 l17 17 M914 561.2 l-17 17" stroke="#fff" stroke-width="2.6"/>
<path d="M897 561.2 l17 17 M914 561.2 l-17 17" stroke="#f58a92" stroke-width="0.9"/>
<path d="M897 569.7 h17 M905.5 561 v17" stroke="#fff" stroke-width="3.2"/>
<path d="M897 569.7 h17 M905.5 561 v17" stroke="#f4606a" stroke-width="1.6"/>
</g>
<circle cx="938.7" cy="569.7" r="9.6" fill="#fff" stroke="#f23645" stroke-width="1.9"/>
<clipPath id="usc"><circle cx="938.7" cy="569.7" r="7.8"/></clipPath>
<g clip-path="url(#usc)">
<path d="M940 563.5 h10 M940 567.5 h10 M930 575.5 h18" stroke="#f0484f" stroke-width="2.2"/>
<path d="M940 571 h10" stroke="#f0484f" stroke-width="1.4"/>
<rect x="929" y="561" width="11.5" height="10.4" fill="#3d8be8"/>
<path d="M931.5 563 h8 M931.5 565.5 h8 M931.5 568 h8 M933 562 v8 M935.5 562 v8 M938 562 v8" stroke="#9cc4f2" stroke-width="0.6"/>
</g>
<path d="M9.9 619.8 h7.6 v8.8 h-3.9 v-6.2 h-3.7 z" fill="#131722"/>
<circle cx="20.2" cy="621.3" r="1.55" fill="#131722"/>
<path d="M23 619.8 L27.5 619.8 L23.9 628.6 L19.5 628.6 Z" fill="#131722"/>
<text x="31.8" y="628.7" style="font-size:11.2px;fill:#2a2a2a" textLength="64.5" lengthAdjust="spacingAndGlyphs">TradingView</text>
</svg>
</body></html>
